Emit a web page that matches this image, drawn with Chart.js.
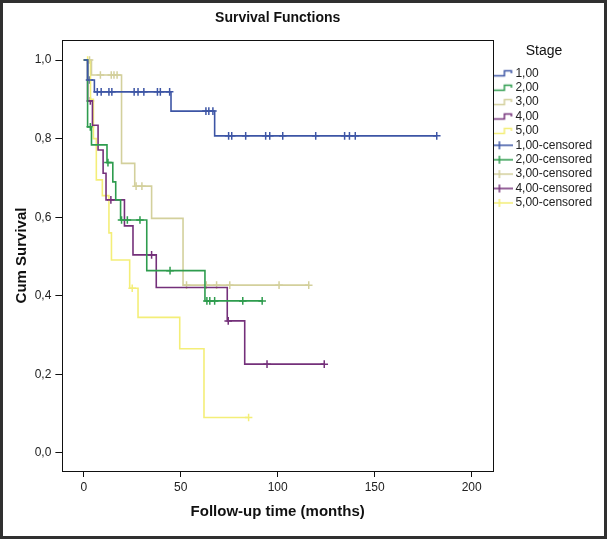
<!DOCTYPE html>
<html>
<head>
<meta charset="utf-8">
<script src="https://cdn.jsdelivr.net/npm/chart.js@4/dist/chart.umd.min.js"></script>
<style>
  body { margin: 0; background: #fff; }
  #wrap { position: relative; width: 607px; height: 539px; }
  #frame { position: absolute; left: 0; top: 0; width: 607px; height: 539px; box-sizing: border-box; border: 3px solid #303030; pointer-events: none; }
</style>
</head>
<body>
<div id="wrap">
  <canvas id="km" width="607" height="539"></canvas>
  <div id="frame"></div>
</div>
<script>
var stageLabels = ['1,00', '2,00', '3,00', '4,00', '5,00']
var stageColors = ['#3d55a5', '#2e9c4e', '#d3d09c', '#74307a', '#f4ee78']

// event times (months) and survival after each step
var eventTimes1 = [0, 2, 5.5, 45, 67.5]
var survival1 = [1.0, 0.949, 0.919, 0.870, 0.807]
var censored1 = [3, 7, 9, 13, 14.5, 26, 28, 31, 38, 39.5, 44.3, 63, 64.5, 66.6, 74.7, 76.3, 83.5, 93.8, 95.9, 102.6, 119.6, 134.5, 137, 140, 182]

var eventTimes2 = [0, 2, 4, 12, 15, 16.5, 19, 32.5, 62.5]
var survival2 = [1.0, 0.83, 0.784, 0.739, 0.690, 0.644, 0.593, 0.464, 0.387]
var censored2 = [3.4, 12.5, 19.5, 22.5, 29, 44.5, 63.5, 65, 67.5, 82, 92]

var eventTimes3 = [0, 4, 19.5, 26.3, 35, 51.2]
var survival3 = [1.0, 0.962, 0.737, 0.679, 0.597, 0.427]
var censored3 = [3, 8.6, 14.2, 15.6, 17.2, 27, 30, 53, 63.2, 68.5, 75.3, 100.7, 116]

var eventTimes4 = [0, 2, 4.5, 7.4, 10, 11.5, 21, 25.4, 37.4, 74, 83]
var survival4 = [1.0, 0.896, 0.834, 0.771, 0.712, 0.644, 0.578, 0.504, 0.421, 0.336, 0.226]
var censored4 = [3.4, 14, 35, 74.5, 94.5, 124]

var eventTimes5 = [0, 3.5, 5, 6.5, 9.6, 13, 14.3, 23.7, 28, 49.5, 62]
var survival5 = [1.0, 0.9, 0.8, 0.695, 0.655, 0.56, 0.491, 0.419, 0.345, 0.265, 0.09]
var censored5 = [2, 25, 85]

var xTicks = [0, 50, 100, 150, 200]
var yTicks = [0, 0.2, 0.4, 0.6, 0.8, 1.0]

var groups = [
  [eventTimes1, survival1, censored1],
  [eventTimes2, survival2, censored2],
  [eventTimes3, survival3, censored3],
  [eventTimes4, survival4, censored4],
  [eventTimes5, survival5, censored5]
]

function survivalAt(times, surv, t) {
  var s = surv[0]
  times.forEach((tt, i) => { if (tt <= t) s = surv[i] })
  return s
}

function stepIcon(color) {
  var c = document.createElement('canvas')
  c.width = 22; c.height = 10
  var g = c.getContext('2d')
  g.strokeStyle = color; g.lineWidth = 1.5
  g.beginPath()
  g.moveTo(0, 7.5); g.lineTo(13, 7.5); g.lineTo(13, 2.5); g.lineTo(20, 2.5); g.lineTo(20, 5)
  g.stroke()
  return c
}

function crossIcon(color) {
  var c = document.createElement('canvas')
  c.width = 22; c.height = 10
  var g = c.getContext('2d')
  g.strokeStyle = color; g.lineWidth = 1.5
  g.beginPath()
  g.moveTo(0, 5); g.lineTo(22, 5)
  g.moveTo(8, 1); g.lineTo(8, 9)
  g.stroke()
  return c
}

var datasets = []
groups.forEach((grp, k) => {
  var pts = grp[0].map((t, i) => ({ x: t, y: grp[1][i] }))
  var lastCens = Math.max.apply(null, grp[2])
  if (lastCens > grp[0][grp[0].length - 1]) pts.push({ x: lastCens, y: grp[1][grp[1].length - 1] })
  datasets.push({
    label: stageLabels[k],
    data: pts,
    showLine: true,
    stepped: 'before',
    borderColor: stageColors[k],
    borderWidth: 1.6,
    pointRadius: 0,
    legendIcon: stepIcon(stageColors[k])
  })
})
groups.forEach((grp, k) => {
  datasets.push({
    label: stageLabels[k] + '-censored',
    data: grp[2].map(t => ({ x: t, y: survivalAt(grp[0], grp[1], t) })),
    showLine: false,
    pointStyle: 'cross',
    pointRadius: 3.8,
    borderWidth: 1.5,
    borderColor: stageColors[k],
    legendIcon: crossIcon(stageColors[k])
  })
})

var framePlugin = {
  id: 'frame',
  afterDatasetsDraw(chart) {
    var a = chart.chartArea, ctx = chart.ctx
    ctx.save()
    ctx.strokeStyle = '#111'
    ctx.lineWidth = 1
    ctx.strokeRect(Math.round(a.left) + 0.5, Math.round(a.top) + 0.5, Math.round(a.right - a.left), Math.round(a.bottom - a.top))
    ctx.restore()
  }
}

var ctx = document.getElementById('km').getContext('2d')
var chart = new Chart(ctx, {
  type: 'scatter',
  data: { datasets: datasets },
  options: {
    responsive: false,
    animation: false,
    layout: { padding: { left: 0, right: 12, top: 0, bottom: 6 } },
    scales: {
      x: {
        type: 'linear', min: -11, max: 211,
        afterBuildTicks: s => { s.ticks = xTicks.map(v => ({ value: v })) },
        ticks: { color: '#222', padding: 3, font: { family: 'Arial', size: 12 }, callback: v => String(v) },
        grid: { drawOnChartArea: false, tickLength: 6, tickColor: '#111' },
        border: { color: '#111' },
        title: { display: true, text: 'Follow-up time (months)', color: '#111', font: { family: 'Arial', size: 15, weight: 'bold' }, padding: { top: 5.6, bottom: 12 } }
      },
      y: {
        type: 'linear', min: -0.046, max: 1.051,
        afterBuildTicks: s => { s.ticks = yTicks.map(v => ({ value: v })) },
        ticks: { color: '#222', padding: 4, font: { family: 'Arial', size: 12 }, callback: v => v.toFixed(1).replace('.', ',') },
        grid: { drawOnChartArea: false, tickLength: 7, tickColor: '#111' },
        border: { color: '#111' },
        title: { display: true, text: 'Cum Survival', color: '#111', font: { family: 'Arial', size: 15, weight: 'bold' }, padding: { top: 12.7, bottom: 0 } }
      }
    },
    plugins: {
      title: {
        display: true, text: 'Survival Functions', fullSize: false, color: '#111',
        font: { family: 'Arial', size: 14, weight: 'bold' }, padding: { top: 9.6, bottom: 13.6 }
      },
      legend: {
        position: 'right', align: 'start', fullSize: false, maxWidth: 102,
        title: { display: true, text: 'Stage', color: '#111', font: { family: 'Arial', size: 14 }, padding: { top: 4.6, bottom: 3.5 } },
        labels: {
          usePointStyle: true, pointStyleWidth: 14, padding: 2.4,
          font: { family: 'Arial', size: 12 }, color: '#222',
          generateLabels: c => c.data.datasets.map((ds, i) => ({
            text: ds.label, pointStyle: ds.legendIcon, fillStyle: 'transparent',
            strokeStyle: 'transparent', lineWidth: 0, hidden: false, datasetIndex: i, fontColor: '#222'
          }))
        }
      },
      tooltip: { enabled: false }
    }
  },
  plugins: [framePlugin]
})
</script>
</body>
</html>
